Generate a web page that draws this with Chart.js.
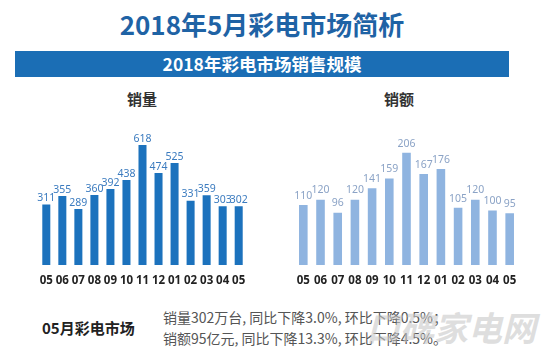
<!DOCTYPE html>
<html><head><meta charset="utf-8">
<script src="https://cdn.jsdelivr.net/npm/chart.js@4/dist/chart.umd.min.js"></script>
<style>
html,body{margin:0;padding:0;background:#fff;width:554px;height:361px;overflow:hidden;font-family:"Noto Sans CJK SC","Noto Sans",sans-serif;}
.abs{position:absolute;white-space:nowrap;}
#title{left:0;width:524px;top:5px;text-align:center;font-size:26px;font-weight:bold;color:#1f63a5;line-height:38px;}
#band{left:15px;top:51px;width:494px;height:26px;background:#1b6eb5;color:#fff;font-weight:bold;font-size:17.5px;line-height:26px;text-align:center;}
.ct{font-size:15px;font-weight:bold;color:#333;line-height:20px;transform:translateX(-50%);}
#c1{left:31px;top:125px;}
#c2{left:288px;top:125px;}
#sum{left:42px;top:317px;font-size:15px;font-weight:bold;color:#222;line-height:22px;}
.ln{left:163px;font-size:14px;color:#555;line-height:20px;}
#wm{left:366px;top:305px;font-size:34px;font-weight:bold;font-style:italic;color:rgba(200,200,200,0.6);line-height:44px;}
</style></head><body>
<div id="title" class="abs">2018年5月彩电市场简析</div>
<div id="band" class="abs">2018年彩电市场销售规模</div>
<div class="abs ct" style="left:142px;top:89px;">销量</div>
<div class="abs ct" style="left:399px;top:89px;">销额</div>
<canvas id="c1" class="abs" width="223" height="168" style="width:223px;height:168px;"></canvas>
<canvas id="c2" class="abs" width="237" height="168" style="width:237px;height:168px;"></canvas>
<div id="sum" class="abs">05月彩电市场</div>
<div class="abs ln" style="top:307px;">销量302万台, 同比下降3.0%, 环比下降0.5%；</div>
<div class="abs ln" style="top:328px;">销额95亿元, 同比下降13.3%, 环比下降4.5%。</div>
<div id="wm" class="abs">口碑家电网</div>
<script>
const months = ["05","06","07","08","09","10","11","12","01","02","03","04","05"];
const volume = [311,355,289,360,392,438,618,474,525,331,359,303,302];
const revenue = [110,120,96,120,141,159,206,167,176,105,120,100,95];

const valueLabels = {
  id:'valueLabels',
  afterDatasetsDraw(chart, args, opts){
    const ctx = chart.ctx;
    const meta = chart.getDatasetMeta(0);
    ctx.save();
    ctx.font = opts.font;
    ctx.fillStyle = opts.color;
    ctx.textAlign = 'center';
    ctx.textBaseline = 'bottom';
    meta.data.forEach((bar,i)=>{
      ctx.fillText(String(chart.data.datasets[0].data[i]), bar.x, bar.y - opts.gap);
    });
    ctx.restore();
  }
};

function make(id, data, color, max, lblColor, lblFont, gap){
  new Chart(document.getElementById(id), {
    type:'bar',
    data:{labels:months, datasets:[{data:data, backgroundColor:color, barPercentage:0.5, categoryPercentage:1.0}]},
    options:{
      responsive:false, animation:false,
      layout:{padding:{top:0,bottom:4,left:0,right:0}},
      plugins:{legend:{display:false}, tooltip:{enabled:false}, title:{display:false},
        valueLabels:{color:lblColor, font:lblFont, gap:gap}},
      scales:{
        x:{grid:{display:false, drawTicks:false}, border:{display:false},
           afterFit(s){ s.height = 24; },
           ticks:{padding:9, color:'#222', font:{size:11.5, weight:'bold', family:'"Noto Sans","Open Sans",sans-serif'}, maxRotation:0, autoSkip:false}},
        y:{display:false, min:0, max:max}
      }
    },
    plugins:[valueLabels]
  });
}
make('c1', volume, '#1c72bd', 721, '#3b7bbf', '10.5px "Noto Sans","Open Sans",sans-serif', 1);
make('c2', revenue, '#8fb4e0', 257, '#8ba3c6', '10.5px "Noto Sans","Open Sans",sans-serif', 4);
</script>
</body></html>
